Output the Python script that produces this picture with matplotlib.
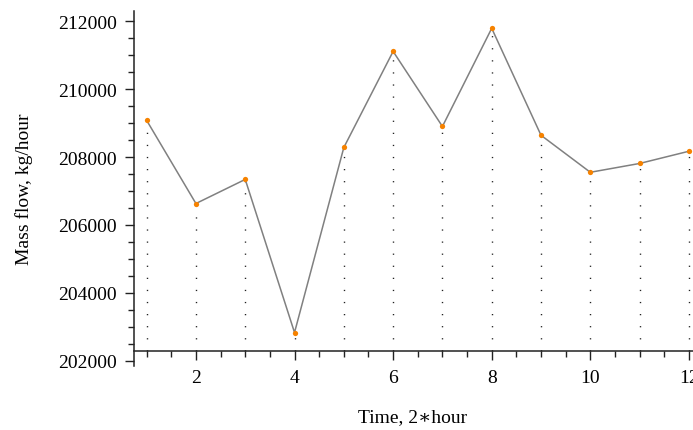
import matplotlib.pyplot as plt
from matplotlib.ticker import MultipleLocator

# valori
time = [1, 2, 3, 4, 5, 6, 7, 8, 9, 10, 11, 12]
mass_flow = [209080, 206630, 207340, 202830, 208280, 211110,
             208900, 211790, 208640, 207550, 207810, 208170]

plt.rcParams['font.family'] = ['Liberation Serif', 'DejaVu Serif']

W, H = 693, 431
fig = plt.figure(figsize=(W / 100, H / 100), dpi=100)
# assi: y da 12 a 367 px, x da 134 px (si estende oltre il bordo destro)
left, right, top, bottom = 134.3, 134.3 + 11.5 * 49.3, 12, 367
ax = fig.add_axes([left / W, (H - bottom) / H, (right - left) / W, (bottom - top) / H])

x_base = 202300
# linee tratteggiate verticali dai punti all'asse
for t, m in zip(time, mass_flow):
    ax.plot([t, t], [x_base, m], color='#222222', linewidth=1.0,
            linestyle=(0, (0.9, 7.8)), zorder=1)

ax.plot(time, mass_flow, color='#808080', linewidth=1.1, zorder=2)
ax.plot(time, mass_flow, linestyle='none', marker='o', markersize=3.8,
        color='#f68200', markeredgewidth=0, zorder=3)

ax.set_xlim(0.75, 12.25)
ax.set_ylim(201845, 212300)

ax.spines['top'].set_visible(False)
ax.spines['right'].set_visible(False)
ax.spines['bottom'].set_position(('data', x_base))
for s in ('left', 'bottom'):
    ax.spines[s].set_color('#222222')
    ax.spines[s].set_linewidth(1.1)

ax.set_yticks([202000, 204000, 206000, 208000, 210000, 212000])
ax.yaxis.set_minor_locator(MultipleLocator(500))
ax.set_xticks([2, 4, 6, 8, 10, 12])
ax.xaxis.set_minor_locator(MultipleLocator(0.5))

ax.tick_params(axis='both', which='major', length=6.5, width=1.0, color='#222222',
               labelsize=14, pad=6)
ax.tick_params(axis='both', which='minor', length=4, width=1.0, color='#222222')
ax.tick_params(axis='x', which='major', pad=7)

ax.set_xlabel('Time, 2∗hour', fontsize=14, va='center')
ax.set_ylabel('Mass flow, kg/hour', fontsize=14, va='center')
ax.xaxis.set_label_coords((413 - left) / (right - left), -(418 - bottom) / (bottom - top))
ax.yaxis.set_label_coords(-(left - 24) / (right - left), 0.5)

fig.savefig('out.png', dpi=100)
